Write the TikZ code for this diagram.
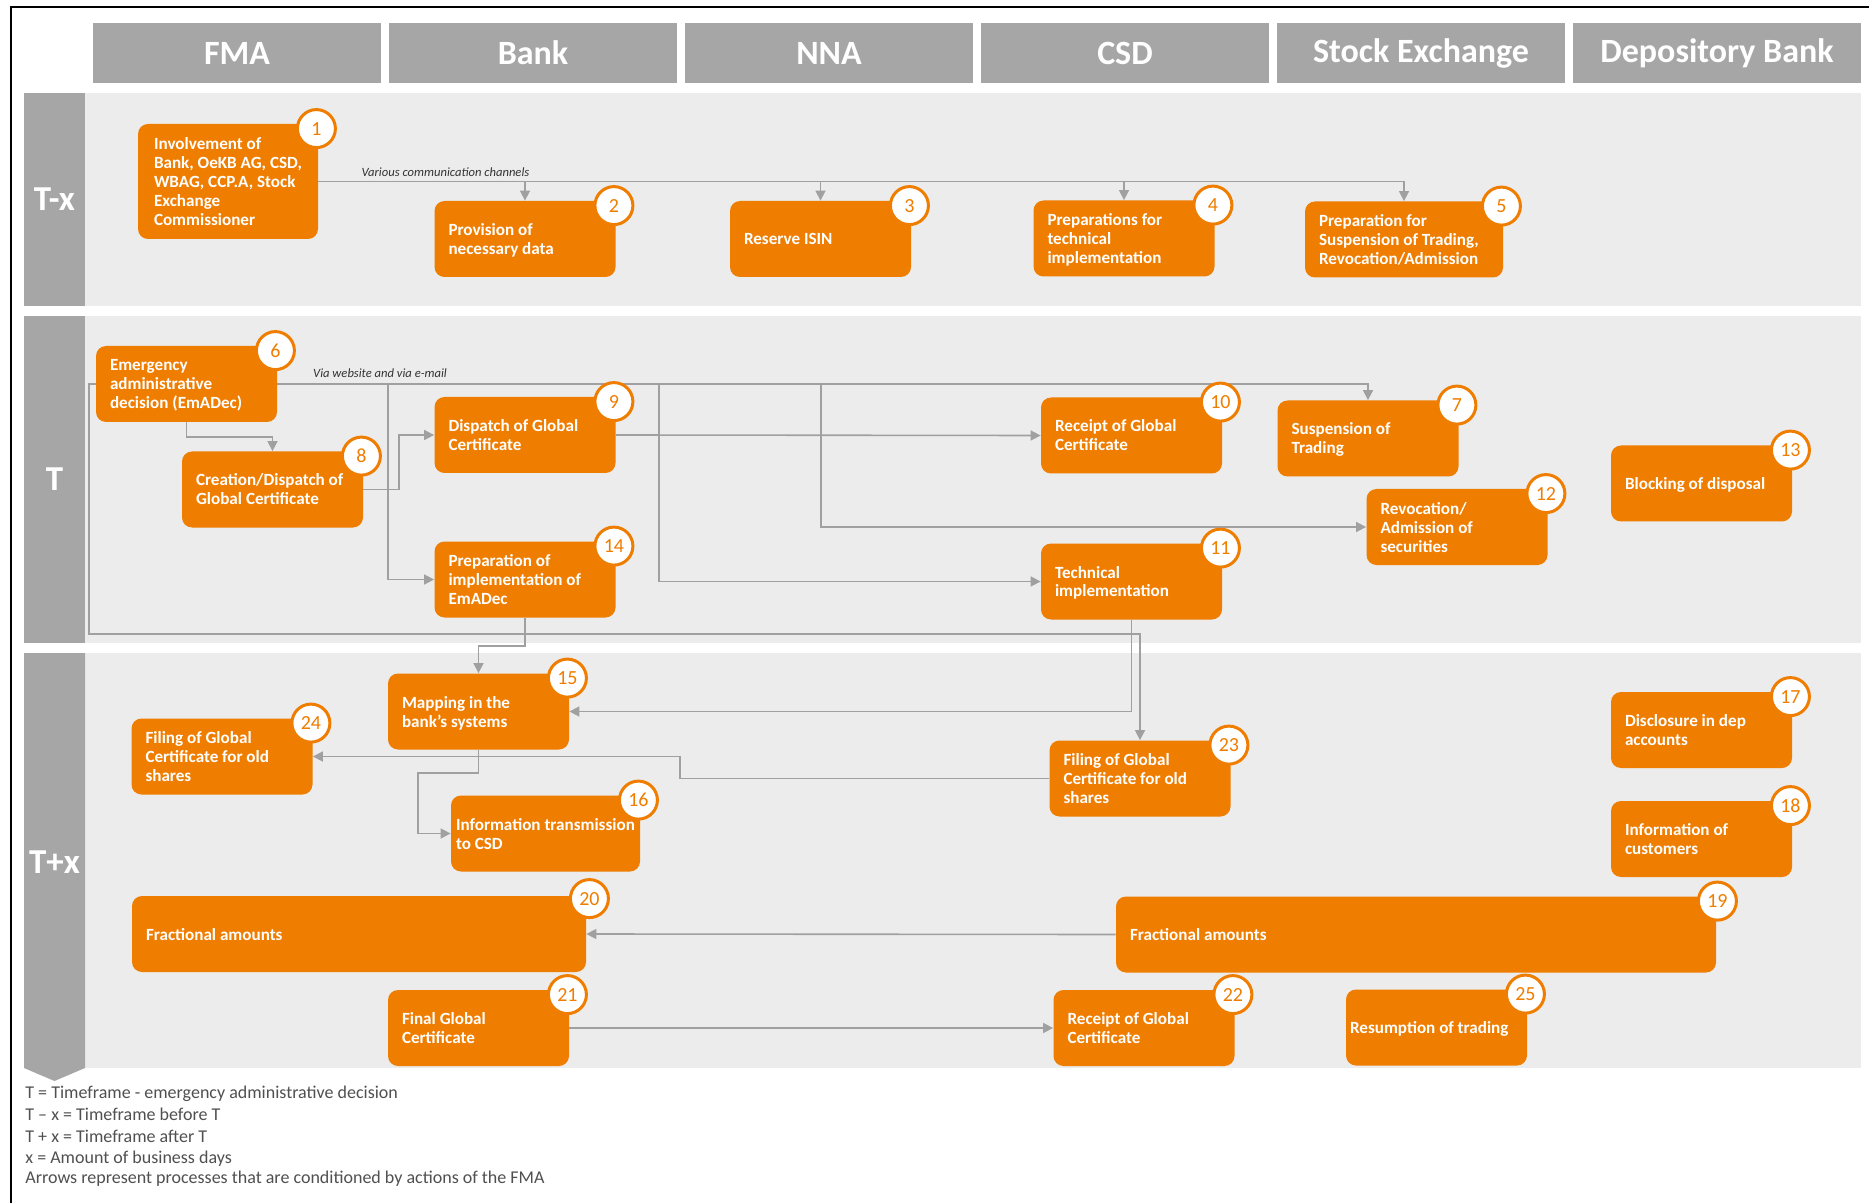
\documentclass[tikz,border=0pt]{standalone}
\usepackage{fontspec}
\setmainfont{Carlito}
\usetikzlibrary{arrows.meta,calc}
\definecolor{fmaorange}{RGB}{239,125,0}
\definecolor{hdrgray}{RGB}{166,166,166}
\definecolor{bandgray}{RGB}{236,236,236}
\definecolor{linegray}{RGB}{160,160,160}
\definecolor{legendgray}{RGB}{80,80,80}
\pgfdeclarelayer{bg}
\pgfdeclarelayer{lines}
\pgfsetlayers{bg,lines,main}
\newcommand\boxtext[2][76.5pt]{\raisebox{-1.1pt}[\height][\depth]{\makebox[#1][l]{\begin{tabular}{@{}l@{}}#2\end{tabular}}}}
\begin{document}
\begin{tikzpicture}[x=0.5pt,y=-0.5pt,
  box/.style={fill=fmaorange, rounded corners=5pt, text=white,
    font=\bfseries\fontsize{8.55}{9.5}\selectfont,
    inner xsep=7pt, inner ysep=0pt, minimum height=38pt},
  badge/.style={circle, fill=white, draw=fmaorange, line width=1.5pt,
    minimum size=19pt, inner sep=0pt, text=fmaorange,
    font=\fontsize{10}{10}\selectfont},
  hdr/.style={fill=hdrgray, minimum width=144pt, minimum height=30pt, inner sep=0pt,
    text=white, font=\bfseries\fontsize{17}{17}\selectfont},
  bandlbl/.style={text=white, font=\bfseries\fontsize{17.5}{17.5}\selectfont, inner sep=0pt},
  lbl/.style={font=\itshape\fontsize{6.3}{7}\selectfont, text=black!80, inner sep=0pt},
  legend/.style={font=\fontsize{9}{10}\selectfont, text=legendgray, inner sep=0pt, anchor=base west},
  line/.style={draw=linegray, line width=0.8pt},
  arr/.style={line, -{Triangle[length=5pt,width=5pt]}}
]
\useasboundingbox (0,0) rectangle (1869,1203);

% bands
\begin{pgfonlayer}{bg}
\fill[white] (0,0) rectangle (1869,1203);
\fill[bandgray] (85,93) rectangle (1861,306);
\fill[hdrgray] (24,93) rectangle (85,306);
\fill[bandgray] (85,316) rectangle (1861,643);
\fill[hdrgray] (24,316) rectangle (85,643);
\fill[bandgray] (85,653) rectangle (1861,1068);
\fill[hdrgray] (24,653) -- (85,653) -- (85,1068) -- (54.5,1081) -- (24,1068) -- cycle;
\draw[black, line width=1pt] (11,1203) -- (11,7) -- (1869,7);
\end{pgfonlayer}

% headers
\node[hdr] (hFMA) at (237,53) {FMA};
\node[hdr] (hBank) at (533,53) {Bank};
\node[hdr] (hNNA) at (829,53) {NNA};
\node[hdr] (hCSD) at (1125,53) {CSD};
\node[hdr] (hSE) at (1421,53) {Stock Exchange};
\node[hdr] (hDB) at (1717,53) {Depository Bank};

\node[bandlbl] (lTx) at (54.5,199.5) {T-x};
\node[bandlbl] (lT) at (54.5,479.5) {T};
\node[bandlbl] (lTpx) at (54.5,862) {T+x};

% nodes T-x
\node[box, minimum height=57.5pt, inner xsep=8pt] (n1) at (228,181.5) {\boxtext[74pt]{Involvement of\\Bank, OeKB AG, CSD,\\WBAG, CCP.A, Stock\\Exchange\\Commissioner}};
\node[box] (n2) at (525,239) {\boxtext{Provision of\\necessary data}};
\node[box] (n3) at (820.5,239) {\boxtext{Reserve ISIN}};
\node[box] (n4) at (1124,238.5) {\boxtext{Preparations for\\technical\\implementation}};
\node[box] (n5) at (1404,239.5) {\boxtext[85pt]{Preparation for\\Suspension of Trading,\\Revocation/Admission}};

% nodes T
\node[box] (n6) at (186.5,384) {\boxtext{Emergency\\administrative\\decision (EmADec)}};
\node[box] (n8) at (272.5,489.5) {\boxtext{Creation/Dispatch of\\Global Certificate}};
\node[box] (n9) at (525,435) {\boxtext{Dispatch of Global\\Certificate}};
\node[box] (n14) at (525,579.5) {\boxtext{Preparation of\\implementation of\\EmADec}};
\node[box] (n10) at (1131.5,435.5) {\boxtext{Receipt of Global\\Certificate}};
\node[box] (n7) at (1368,438.5) {\boxtext{Suspension of\\Trading}};
\node[box] (n13) at (1701.5,483.5) {\boxtext{Blocking of disposal}};
\node[box] (n12) at (1457,527) {\boxtext{Revocation/\\Admission of\\securities}};
\node[box] (n11) at (1131.5,581.5) {\boxtext{Technical\\implementation}};

% nodes T+x
\node[box] (n15) at (478.5,711.5) {\boxtext{Mapping in the\\bank’s systems}};
\node[box] (n24) at (222,756.5) {\boxtext{Filing of Global\\Certificate for old\\shares}};
\node[box, inner xsep=2.5pt] (n16) at (545.5,833.5) {\boxtext[89.5pt]{Information transmission\\to CSD}};
\node[box] (n20) at (359,934) {\boxtext[213pt]{Fractional amounts}};
\node[box] (n21) at (478.5,1028) {\boxtext{Final Global\\Certificate}};
\node[box] (n17) at (1701.5,730) {\boxtext{Disclosure in dep\\accounts}};
\node[box] (n18) at (1701.5,839) {\boxtext{Information of\\customers}};
\node[box] (n23) at (1140,778.5) {\boxtext{Filing of Global\\Certificate for old\\shares}};
\node[box] (n19) at (1416,934.5) {\boxtext[286pt]{Fractional amounts}};
\node[box] (n22) at (1144,1028) {\boxtext{Receipt of Global\\Certificate}};
\node[box, inner xsep=2pt] (n25) at (1436.5,1027.5) {\boxtext[86.5pt]{Resumption of trading}};

% badges
\foreach \n in {1,2,3,4,5,6,7,8,9,10,11,12,13,14,15,16,17,18,21,22,23,24,25}{
  \node[badge] (b\n) at ($(n\n.north east)+(-2,5)$) {\n};
}
\node[badge] (b19) at ($(n19.north east)+(1,5)$) {19};
\node[badge] (b20) at ($(n20.north east)+(3,3)$) {20};

% labels
\node[lbl] (lab1) at (445.5,172) {Various communication channels};
\node[lbl] (lab2) at (380,373) {Via website and via e-mail};

% coordinates
\coordinate (b1c) at (388,384);
\coordinate (b2c) at (659,384);
\coordinate (b3c) at (821,384);
\coordinate (c1) at (89,634);
\coordinate (c2) at (418,773);
\coordinate (c3) at (680,778.5);
\coordinate (c4) at (525,646);
\coordinate (c5) at (186.5,437);
\coordinate (c6) at (399,489.5);

\begin{pgfonlayer}{lines}
% T-x
\draw[arr] (n1.east) -| (n5.north);
\draw[arr] (n2.north |- n1.east) -- (n2.north);
\draw[arr] (n3.north |- n1.east) -- (n3.north);
\draw[arr] (n4.north |- n1.east) -- (n4.north);
% T
\draw[arr] (n6.east) -| (n7.north);
\draw[arr] (n6.west) -| (c1) -| (n23.north);
\draw[arr] (b1c) |- (n14.west);
\draw[arr] (b2c) |- (n11.west);
\draw[arr] (b3c) |- (n12.west);
\draw[arr] (n6.south) -- (c5) -| (n8.north);
\draw[arr] (n8.east) -- (c6) |- (n9.west);
\draw[arr] (n9.east) -- (n10.west);
\draw[arr] (n14.south) -- (c4) -| (n15.north);
\draw[arr] (n11.south) |- (n15.east);
% T+x
\draw[arr] (n15.south) |- (c2) |- (n16.west);
\draw[arr] (n23.west) -- (c3) |- (n24.east);
\draw[arr] (n19.west) -- (n20.east);
\draw[arr] (n21.east) -- (n22.west);
\end{pgfonlayer}

% legend
\node[legend] (lg1) at (25,1098) {T = Timeframe - emergency administrative decision};
\node[legend] (lg2) at (25,1120) {T – x = Timeframe before T};
\node[legend] (lg3) at (25,1142) {T + x = Timeframe after T};
\node[legend] (lg4) at (25,1163) {x = Amount of business days};
\node[legend] (lg5) at (25,1183) {Arrows represent processes that are conditioned by actions of the FMA};
\end{tikzpicture}
\end{document}
